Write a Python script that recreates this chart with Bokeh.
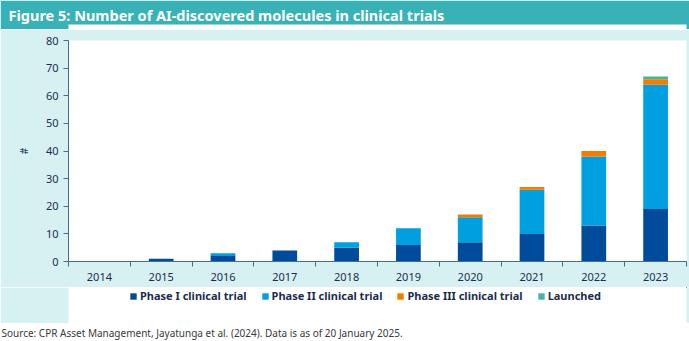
from bokeh.plotting import figure
from bokeh.models import (Range1d, LinearAxis, FixedTicker, Legend, LegendItem,
                          ColumnDataSource, Title)
from bokeh.layouts import column
from bokeh.embed import file_html
from bokeh.resources import INLINE

# ---- data ----
years = ["2014", "2015", "2016", "2017", "2018", "2019", "2020", "2021", "2022", "2023"]
phase1 = [0, 1, 2, 4, 5, 6, 7, 10, 13, 19]
phase2 = [0, 0, 1, 0, 2, 6, 9, 16, 25, 45]
phase3 = [0, 0, 0, 0, 0, 0, 1, 1, 2, 2]
launched = [0, 0, 0, 0, 0, 0, 0, 0, 0, 1]
series_names = ["Phase I clinical trial", "Phase II clinical trial",
                "Phase III clinical trial", "Launched"]
y_ticks = [0, 10, 20, 30, 40, 50, 60, 70, 80]

title_text = "Figure 5: Number of AI-discovered molecules in clinical trials"
source_text = "Source: CPR Asset Management, Jayatunga et al. (2024). Data is as of 20 January 2025."

# ---- styles ----
colors = ["#004B9B", "#009FE0", "#F07D00", "#45B59B"]
TEAL = "#38B2B7"
BG = "#D7F1F2"
AXIS = "#3F6E91"
TXT = "#1D2D4E"
FONT = "Noto Sans"
W = 689
LB, RB = 68, 3


def strip(height, color, top=0, bottom=0, x_range=(0, 1), y_range=(0, 1)):
    f = figure(width=W, height=height, toolbar_location=None, output_backend="svg",
               x_range=x_range, y_range=y_range, x_axis_location=None, y_axis_location=None,
               min_border_left=LB, min_border_right=RB, min_border_top=top, min_border_bottom=bottom)
    f.grid.visible = False
    f.outline_line_color = None
    f.background_fill_color = None
    f.border_fill_color = color
    return f


# ---- title strip ----
t = strip(29, TEAL, top=24)
t.add_layout(Title(text=title_text, align="left", offset=8 - LB, standoff=0,
                   text_color="white", text_font=FONT, text_font_size="14.5px",
                   text_font_style="bold"), "above")

# ---- main chart ----
n = len(years)
centers = [i + 0.5 for i in range(n)]
bounds = [i for i in range(n + 1)]
src = ColumnDataSource(dict(x=centers, p1=phase1, p2=phase2, p3=phase3, l=launched))
stackers = ["p1", "p2", "p3", "l"]

p = figure(width=W, height=258, toolbar_location=None, output_backend="svg",
           x_range=Range1d(0, n), y_range=Range1d(0, 80),
           x_axis_location=None, y_axis_location=None,
           min_border_left=LB, min_border_right=RB, min_border_top=11, min_border_bottom=26)
p.grid.visible = False
p.outline_line_color = None
p.background_fill_color = None
p.border_fill_color = BG

rs = p.vbar_stack(stackers, x="x", width=0.4, source=src,
                  fill_color=colors, line_color=None)

yax = LinearAxis(ticker=FixedTicker(ticks=y_ticks), axis_label="#")
yax.axis_line_color = AXIS
yax.major_tick_line_color = AXIS
yax.major_tick_in = 0
yax.major_tick_out = 5
yax.minor_tick_line_color = None
yax.major_label_text_color = TXT
yax.major_label_text_font = FONT
yax.major_label_text_font_size = "11px"
yax.axis_label_text_font = FONT
yax.axis_label_text_font_size = "10px"
yax.axis_label_text_color = TXT
yax.axis_label_text_font_style = "normal"
yax.axis_label_standoff = 12
p.add_layout(yax, "left")

xax = LinearAxis(ticker=FixedTicker(ticks=centers, minor_ticks=bounds))
xax.major_label_overrides = {c: y for c, y in zip(centers, years)}
xax.axis_line_color = AXIS
xax.major_tick_line_color = None
xax.major_tick_in = 0
xax.major_tick_out = 0
xax.minor_tick_line_color = AXIS
xax.minor_tick_in = 0
xax.minor_tick_out = 5
xax.major_label_standoff = 6
xax.major_label_text_color = TXT
xax.major_label_text_font = FONT
xax.major_label_text_font_size = "11px"
p.add_layout(xax, "below")

# ---- legend strip (legend swatches come from the same stacked series, out of view) ----
lg = strip(36, BG, x_range=Range1d(-2, -1), y_range=Range1d(-2, -1))
lrs = lg.vbar_stack(stackers, x="x", width=0.4, source=src,
                    fill_color=colors, line_color=None)
legend = Legend(items=[LegendItem(label=nm, renderers=[r]) for nm, r in zip(series_names, lrs)],
                orientation="horizontal", location=(61, 20))
legend.background_fill_alpha = 0
legend.border_line_color = None
legend.label_text_font = FONT
legend.label_text_font_size = "11px"
legend.label_text_font_style = "bold"
legend.label_text_color = TXT
legend.glyph_width = 8
legend.glyph_height = 8
legend.label_standoff = 3
legend.spacing = 14
legend.padding = 2
legend.margin = 0
lg.add_layout(legend, "center")

# ---- source strip ----
s = strip(18, "white", top=16)
s.add_layout(Title(text=source_text, align="left", offset=1 - LB, standoff=0,
                   text_color="#3A3A3A", text_font=FONT, text_font_size="10px",
                   text_font_style="normal"), "above")

layout = column(t, p, lg, s, spacing=0)
open("out.html", "w").write(file_html(layout, INLINE))
